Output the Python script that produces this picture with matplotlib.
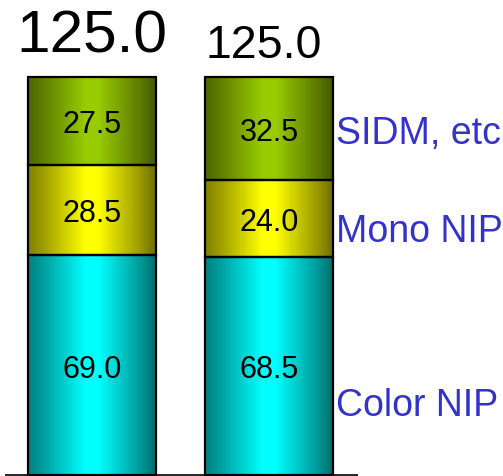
import numpy as np
import matplotlib
matplotlib.use("Agg")
import matplotlib.pyplot as plt

plt.rcParams["font.family"] = ["Liberation Sans", "DejaVu Sans"]

# data
groups = ["A", "B"]
segments = ["Color NIP", "Mono NIP", "SIDM, etc"]
color_nip = [69.0, 68.5]
mono_nip = [28.5, 24.0]
sidm = [27.5, 32.5]
totals = [125.0, 125.0]
label_y = [23.2, 77.9, 108.7]

bright = [(0.0, 1.0, 1.0), (1.0, 1.0, 0.0), (0.6, 0.8, 0.0)]
width = 0.718

fig = plt.figure(figsize=(5.03, 4.77), dpi=100)
ax = fig.add_axes([0, 0, 1, 1])
ax.set_xlim(-0.52, 2.322)
ax.set_ylim(-0.314, 149.5)
ax.axis("off")

# cylinder-like shading across the bar width
xs = np.linspace(0, 1, 256)
shade = np.interp(xs, [0, 0.12, 0.45, 0.55, 0.88, 1], [0.5, 0.62, 1.0, 1.0, 0.6, 0.43])

series = [color_nip, mono_nip, sidm]
for i in range(len(groups)):
    bottom = 0
    for s, vals in enumerate(series):
        v = vals[i]
        c = np.array(bright[s])
        img = (shade[:, None] * c[None, :])[None, :, :]
        x0 = i - width / 2
        ax.imshow(img, extent=[x0, x0 + width, bottom, bottom + v],
                  aspect="auto", interpolation="bilinear", zorder=1)
        ax.bar(i, v, width, bottom=bottom, facecolor="none",
               edgecolor="black", linewidth=1.6, zorder=2)
        ax.text(i, bottom + v / 2, f"{v:.1f}", ha="center", va="center_baseline",
                fontsize=22, color="black", zorder=3)
        bottom += v

ax.text(0, 132.9, f"{totals[0]:.1f}", ha="center", va="baseline", fontsize=43.5)
ax.text(0.97, 131.3, f"{totals[1]:.1f}", ha="center", va="baseline", fontsize=33.5)

for name, y in zip(segments, label_y):
    ax.text(1.378, y, name, ha="left", va="center_baseline", fontsize=27, color="#3333cc")

ax.hlines(0, -0.49, 1.5, color="black", linewidth=1.2, zorder=3)

fig.savefig("out.png", dpi=100)
